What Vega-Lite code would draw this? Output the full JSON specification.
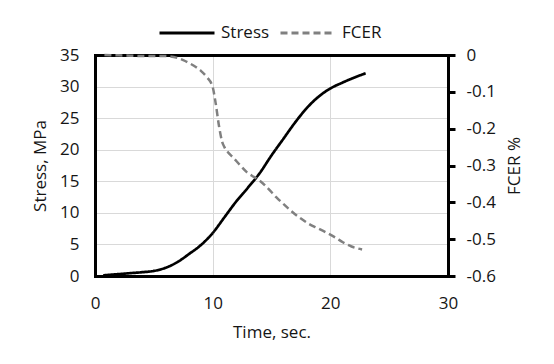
{
  "$schema": "https://vega.github.io/schema/vega-lite/v6.json",
  "width": 353,
  "height": 221,
  "autosize": {"type": "none"},
  "padding": {"left": 95, "top": 55, "right": 106, "bottom": 88},
  "background": "white",
  "config": {
    "font": "Open Sans",
    "view": {"stroke": null},
    "axis": {
      "labelFont": "Open Sans",
      "titleFont": "Open Sans",
      "labelFontSize": 17,
      "titleFontSize": 17,
      "titleFontWeight": "normal",
      "labelColor": "#151515",
      "titleColor": "#151515",
      "gridColor": "#d9d9d9",
      "gridWidth": 1,
      "domain": true,
      "domainColor": "#000000",
      "domainWidth": 3,
      "domainCap": "square",
      "labelFlush": false
    },
    "legend": {
      "labelFont": "Open Sans",
      "labelFontSize": 17,
      "labelColor": "#151515"
    }
  },
  "data": {
    "values": [
      {"t": 0.7, "series": "Stress", "v": 0.1},
      {"t": 2, "series": "Stress", "v": 0.3},
      {"t": 3, "series": "Stress", "v": 0.45},
      {"t": 4, "series": "Stress", "v": 0.6},
      {"t": 5, "series": "Stress", "v": 0.8},
      {"t": 6, "series": "Stress", "v": 1.3},
      {"t": 7, "series": "Stress", "v": 2.2},
      {"t": 8, "series": "Stress", "v": 3.5},
      {"t": 9, "series": "Stress", "v": 4.9},
      {"t": 10, "series": "Stress", "v": 6.8},
      {"t": 11, "series": "Stress", "v": 9.3},
      {"t": 12, "series": "Stress", "v": 11.8},
      {"t": 13, "series": "Stress", "v": 14.0},
      {"t": 14, "series": "Stress", "v": 16.3},
      {"t": 15, "series": "Stress", "v": 19.1},
      {"t": 16, "series": "Stress", "v": 21.7},
      {"t": 17, "series": "Stress", "v": 24.3},
      {"t": 18, "series": "Stress", "v": 26.6},
      {"t": 19, "series": "Stress", "v": 28.4},
      {"t": 20, "series": "Stress", "v": 29.7},
      {"t": 21, "series": "Stress", "v": 30.6},
      {"t": 22, "series": "Stress", "v": 31.4},
      {"t": 23, "series": "Stress", "v": 32.1},
      {"t": 0.8, "series": "FCER", "v": 0},
      {"t": 2, "series": "FCER", "v": -0.001},
      {"t": 3, "series": "FCER", "v": -0.002},
      {"t": 4, "series": "FCER", "v": -0.003},
      {"t": 5, "series": "FCER", "v": -0.003},
      {"t": 6, "series": "FCER", "v": -0.003},
      {"t": 7, "series": "FCER", "v": -0.008},
      {"t": 7.5, "series": "FCER", "v": -0.014},
      {"t": 8, "series": "FCER", "v": -0.022},
      {"t": 8.6, "series": "FCER", "v": -0.033},
      {"t": 9, "series": "FCER", "v": -0.043},
      {"t": 9.5, "series": "FCER", "v": -0.06},
      {"t": 10, "series": "FCER", "v": -0.087},
      {"t": 10.25, "series": "FCER", "v": -0.13},
      {"t": 10.55, "series": "FCER", "v": -0.195},
      {"t": 10.8, "series": "FCER", "v": -0.235},
      {"t": 11, "series": "FCER", "v": -0.25},
      {"t": 11.3, "series": "FCER", "v": -0.264},
      {"t": 11.7, "series": "FCER", "v": -0.277},
      {"t": 12.3, "series": "FCER", "v": -0.298},
      {"t": 12.9, "series": "FCER", "v": -0.318},
      {"t": 13.5, "series": "FCER", "v": -0.331},
      {"t": 14, "series": "FCER", "v": -0.341},
      {"t": 14.7, "series": "FCER", "v": -0.362},
      {"t": 15.4, "series": "FCER", "v": -0.386},
      {"t": 16.1, "series": "FCER", "v": -0.407},
      {"t": 16.8, "series": "FCER", "v": -0.427},
      {"t": 17.5, "series": "FCER", "v": -0.444},
      {"t": 18.2, "series": "FCER", "v": -0.459},
      {"t": 18.9, "series": "FCER", "v": -0.47},
      {"t": 19.6, "series": "FCER", "v": -0.481},
      {"t": 20.4, "series": "FCER", "v": -0.495},
      {"t": 21.1, "series": "FCER", "v": -0.509},
      {"t": 21.8, "series": "FCER", "v": -0.52},
      {"t": 22.7, "series": "FCER", "v": -0.528}
    ]
  },
  "encoding": {
    "color": {
      "field": "series",
      "type": "nominal",
      "scale": {"domain": ["Stress", "FCER"], "range": ["#000000", "#808080"]},
      "legend": {
        "title": null,
        "orient": "none",
        "direction": "horizontal",
        "legendX": 63,
        "legendY": -51,
        "padding": 0,
        "symbolType": "stroke",
        "symbolSize": 3025,
        "symbolStrokeWidth": 3,
        "labelOffset": 5,
        "columnPadding": 4
      }
    },
    "strokeDash": {
      "field": "series",
      "type": "nominal",
      "scale": {"domain": ["Stress", "FCER"], "range": [[1, 0], [7, 4]]},
      "legend": {
        "title": null,
        "orient": "none",
        "direction": "horizontal",
        "legendX": 63,
        "legendY": -51,
        "padding": 0,
        "symbolType": "stroke",
        "symbolSize": 3025,
        "symbolStrokeWidth": 3,
        "labelOffset": 5,
        "columnPadding": 4
      }
    }
  },
  "layer": [
    {
      "transform": [{"filter": "datum.series == 'Stress'"}],
      "mark": {"type": "line", "interpolate": "monotone", "strokeWidth": 2.7},
      "encoding": {
        "x": {
          "field": "t",
          "type": "quantitative",
          "scale": {"domain": [0, 30], "nice": false},
          "axis": {
            "orient": "bottom",
            "values": [0, 10, 20, 30],
            "ticks": false,
            "tickSize": 0,
            "labelPadding": 19,
            "title": "Time, sec.",
            "titlePadding": 13,
            "grid": true
          }
        },
        "y": {
          "field": "v",
          "type": "quantitative",
          "scale": {"domain": [0, 35], "nice": false},
          "axis": {
            "orient": "left",
            "values": [0, 5, 10, 15, 20, 25, 30, 35],
            "ticks": false,
            "tickSize": 0,
            "labelPadding": 16,
            "title": "Stress, MPa",
            "titlePadding": 10,
            "grid": true
          }
        }
      }
    },
    {
      "transform": [{"filter": "datum.series == 'FCER'"}],
      "mark": {"type": "line", "interpolate": "monotone", "strokeWidth": 2.5},
      "encoding": {
        "x": {
          "field": "t",
          "type": "quantitative",
          "scale": {"domain": [0, 30], "nice": false},
          "axis": {
            "orient": "top",
            "values": [0, 10, 20, 30],
            "ticks": false,
            "labels": false,
            "title": null,
            "grid": false
          }
        },
        "y": {
          "field": "v",
          "type": "quantitative",
          "scale": {"domain": [-0.6, 0], "nice": false},
          "axis": {
            "orient": "right",
            "values": [-0.6, -0.5, -0.4, -0.3, -0.2, -0.1, 0],
            "labelExpr": "'' + datum.value",
            "ticks": true,
            "tickSize": 7,
            "tickWidth": 3,
            "tickColor": "black",
            "labelPadding": 11,
            "title": "FCER %",
            "titleAngle": 270,
            "titleBaseline": "top",
            "titlePadding": 11,
            "grid": false
          }
        }
      }
    }
  ],
  "resolve": {"scale": {"y": "independent"}, "axis": {"x": "independent"}}
}
